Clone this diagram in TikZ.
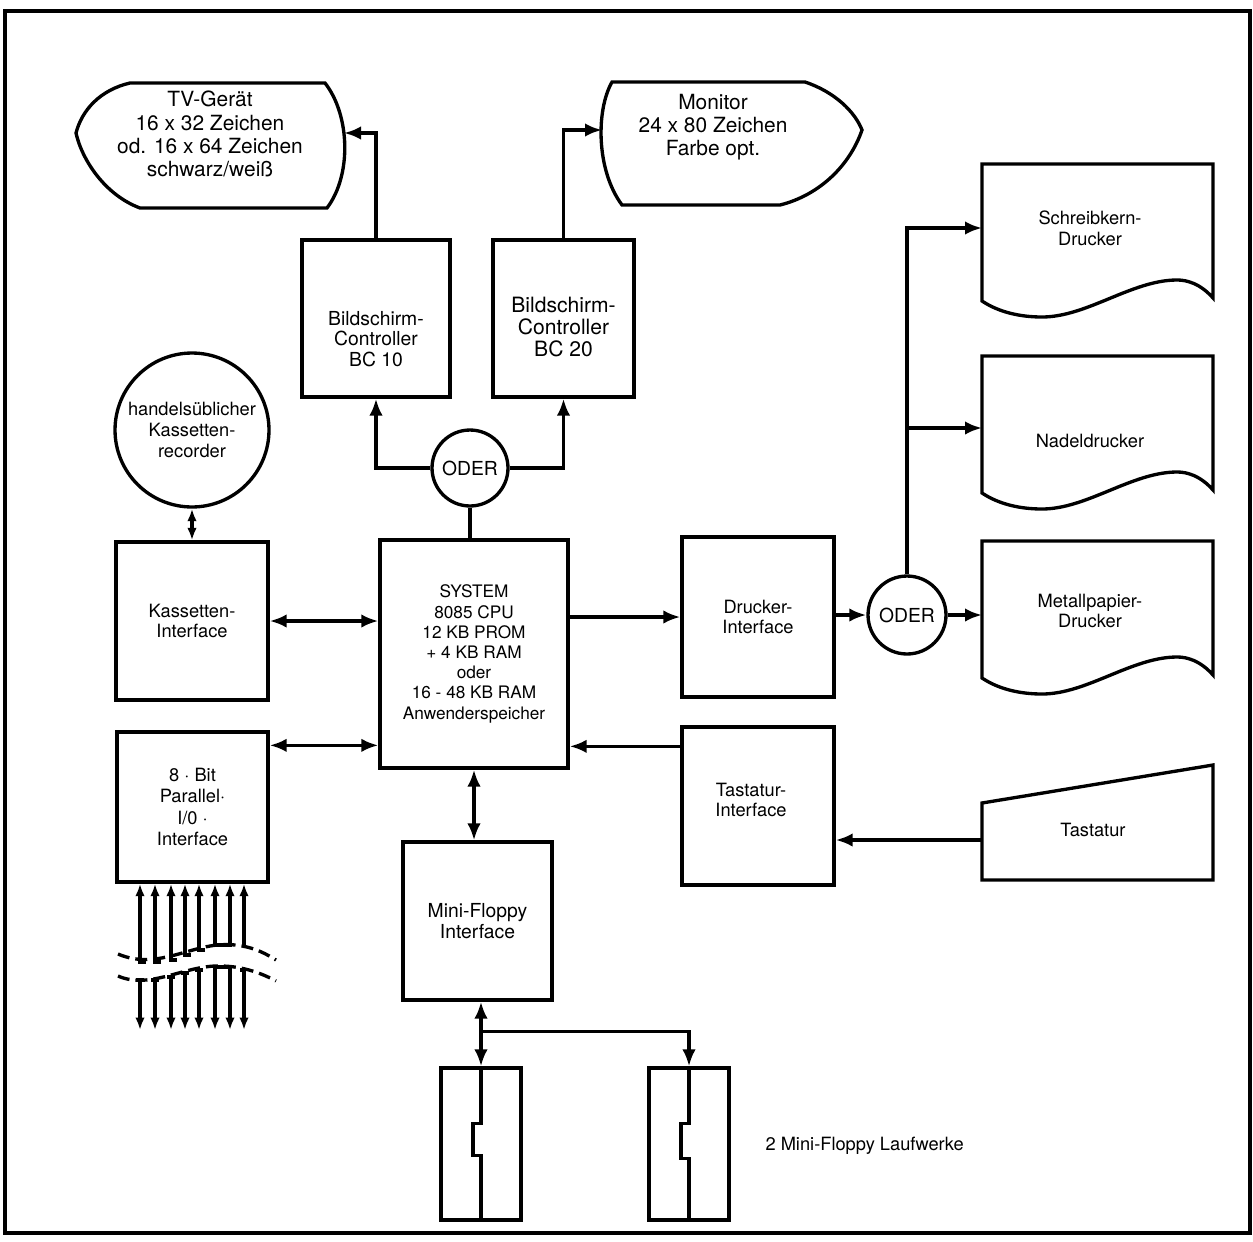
\documentclass[tikz,border=0pt]{standalone}
\usepackage{fontspec}
\setmainfont{TeX Gyre Heros}
\usetikzlibrary{arrows.meta}

\begin{document}
\begin{tikzpicture}[x=0.02cm, y=-0.02cm, line width=1.9pt,
    every node/.style={font=\fontsize{10.4}{11.8}\selectfont, align=center},
    box/.style={draw, rectangle, inner sep=0pt},
    ring/.style={draw, circle, inner sep=0pt},
    arr/.style={-{Latex[length=3.4mm,width=2.7mm]}},
    dbl/.style={{Latex[length=3.4mm,width=2.7mm]}-{Latex[length=3.4mm,width=2.7mm]}},
    smallarr/.style={-{Latex[length=2.5mm,width=1.9mm]}},
    smalldbl/.style={{Latex[length=2.5mm,width=1.9mm]}-{Latex[length=2.5mm,width=1.9mm]}}]
    \useasboundingbox (0,0) rectangle (1253,1241);

    % Rahmen
    \draw (5,11) rectangle (1250,1233);

    % Bildschirme
    \draw (130,83) -- (325,83) .. controls (350,115) and (352,175) .. (327,208) -- (140,208)
        .. controls (105,195) and (82,160) .. (76,133) .. controls (82,110) and (100,90) .. (130,83) -- cycle;
    \node[font=\fontsize{11.9}{13.2}\selectfont] (tv) at (210,134) {TV-Gerät\\16 x 32 Zeichen\\od. 16 x 64 Zeichen\\schwarz/weiß};
    \coordinate (tv-in) at (344,133);
    \draw (612,82) -- (805,82) .. controls (835,92) and (855,112) .. (862,130)
        .. controls (850,165) and (820,195) .. (780,205) -- (622,205) .. controls (596,170) and (596,110) .. (612,82) -- cycle;
    \node[font=\fontsize{11.9}{13.2}\selectfont] (mon) at (713,127) {Monitor\\24 x 80 Zeichen\\Farbe opt.};
    \coordinate (mon-in) at (602,130);

    % Controller
    \node[box, minimum width=2.96cm, minimum height=3.14cm] (bca) at (376,318.5) {};
    \node[font=\fontsize{11}{11.8}\selectfont] (bcatext) at (376,339) {Bildschirm-\\Controller\\BC 10};
    \node[box, minimum width=2.82cm, minimum height=3.14cm] (bcb) at (563.5,318.5) {};
    \node[font=\fontsize{12}{12.8}\selectfont] (bcbtext) at (563.5,327) {Bildschirm-\\Controller\\BC 20};
    \node[ring, minimum size=1.52cm, font=\fontsize{11}{12}\selectfont] (oa) at (470,468) {ODER};

    % Zentraleinheit und Interfaces
    \node[box, minimum width=3.76cm, minimum height=4.56cm, font=\fontsize{9.8}{11.5}\selectfont] (cpu) at (474,654)
        {SYSTEM\\8085 CPU\\12 KB PROM\\+ 4 KB RAM\\oder\\16 - 48 KB RAM\\Anwenderspeicher};
    \node[ring, minimum size=3.08cm] (rec) at (192,430) {handelsüblicher\\Kassetten-\\recorder};
    \node[box, minimum width=3.04cm, minimum height=3.16cm] (kas) at (192,621) {Kassetten-\\Interface};
    \node[box, minimum width=3.02cm, minimum height=3cm, font=\fontsize{10.4}{12.3}\selectfont] (par) at (192.5,807)
        {8 · Bit\\Parallel·\\I/0 ·\\Interface};
    \node[box, minimum width=2.98cm, minimum height=3.16cm, font=\fontsize{11}{12.4}\selectfont] (flo) at (477.5,921)
        {Mini-Floppy\\Interface};
    \node[box, minimum width=3.04cm, minimum height=3.2cm] (dri) at (758,617) {Drucker-\\Interface};
    \node[box, minimum width=3.04cm, minimum height=3.16cm] (tai) at (758,806) {};
    \node (taitext) at (751,800) {Tastatur-\\Interface};
    \node[ring, minimum size=1.56cm, font=\fontsize{11}{12}\selectfont] (ob) at (907,615) {ODER};

    % Drucker
    \foreach \top in {164,356,541}
        \draw[shift={(982,\top)}] (0,0) -- (231,0) -- (231,134) .. controls (224,126) and (212,116) .. (195,116)
            .. controls (150,116) and (105,153) .. (60,153) .. controls (40,153) and (18,149) .. (0,137) -- cycle;
    \node (sch) at (1090,228) {Schreibkern-\\Drucker};
    \node (nad) at (1090,441) {Nadeldrucker};
    \node (met) at (1090,611) {Metallpapier-\\Drucker};
    \coordinate (sch-in) at (982,228);
    \coordinate (nad-in) at (982,428);
    \coordinate (met-in) at (982,615);

    % Tastatur
    \draw (982,803) -- (1213,765) -- (1213,880) -- (982,880) -- cycle;
    \node (tas) at (1093,830) {Tastatur};
    \coordinate (tas-in) at (982,840);

    % Laufwerke
    \node[box, minimum width=1.6cm, minimum height=3.04cm] (fda) at (481,1144) {};
    \node[box, minimum width=1.6cm, minimum height=3.04cm] (fdb) at (689,1144) {};
    \draw (fda.north) -- ++(0,57) -- ++(-8,0) -- ++(0,32) -- ++(8,0) -- (fda.south);
    \draw (fdb.north) -- ++(0,57) -- ++(-8,0) -- ++(0,35) -- ++(8,0) -- (fdb.south);
    \node[anchor=west] (lw) at (758,1146) {2 Mini-Floppy Laufwerke};

    % Verbindungen
    \draw (oa.south) -- (oa.south |- cpu.north);
    \draw[arr] (oa.west) -| (bca.south);
    \draw[arr] (oa.east) -| (bcb.south);
    \draw[arr] (bca.north) |- (tv-in);
    \draw[arr] (bcb.north) |- (mon-in);
    \draw[smalldbl] (rec) -- (kas);
    \draw[dbl] (kas.east) -- (kas.east -| cpu.west);
    \draw[dbl] ([yshift=-0.3cm]par.north east) -- ([yshift=-0.3cm]par.north east -| cpu.west);
    \draw[dbl] (cpu.south) -- (cpu.south |- flo.north);
    \draw[dbl] (fda.north |- flo.south) -- (fda.north);
    \draw[arr] ([yshift=-0.6cm]fda.north |- flo.south) -| (fdb.north);
    \draw[arr] (cpu.east |- dri.west) -- (dri.west);
    \draw[arr] (dri.east |- ob) -- (ob.west);
    \draw[arr] (ob.east) -- (ob.east -| met-in);
    \draw[arr] (ob.north) |- (sch-in);
    \draw[arr] (ob.north |- nad-in) -- (nad-in);
    \draw[arr] ([yshift=-0.42cm]tai.north west) -- ([yshift=-0.42cm]tai.north west -| cpu.east);
    \draw[arr] (tas-in) -- (tas-in -| tai.east);

    % Parallelleitungen mit Unterbrechung
    \foreach \x/\u/\l in {140/962/980, 155/962/980, 171/960/977, 185/955/973, 199/950/970} {
        \draw[smallarr] (\x+6,\u) -- (\x,\u) -- (\x,\u |- par.south);
        \draw (\x-4,\l) -- (\x+4,\l);
        \draw[smallarr] (\x,\l) -- (\x,1030);
    }
    \draw[smalldbl] (215,882 |- par.south) -- (215,945) -- (230,945) -- (230,882 |- par.south);
    \draw[smallarr] (244,947) -- (244,882 |- par.south);
    \draw[smalldbl] (215,1030) -- (215,967) -- (230,967) -- (230,1030);
    \draw[smallarr] (240,970) -- (244,970) -- (244,1030);
    \draw[dash pattern=on 2.4mm off 1.2mm] (118,954) .. controls (160,972) and (195,940) .. (235,945)
        .. controls (255,947) and (268,955) .. (276,960);
    \draw[dash pattern=on 2.4mm off 1.2mm] (118,976) .. controls (150,990) and (185,965) .. (220,966)
        .. controls (245,966) and (265,975) .. (276,981);
\end{tikzpicture}
\end{document}
